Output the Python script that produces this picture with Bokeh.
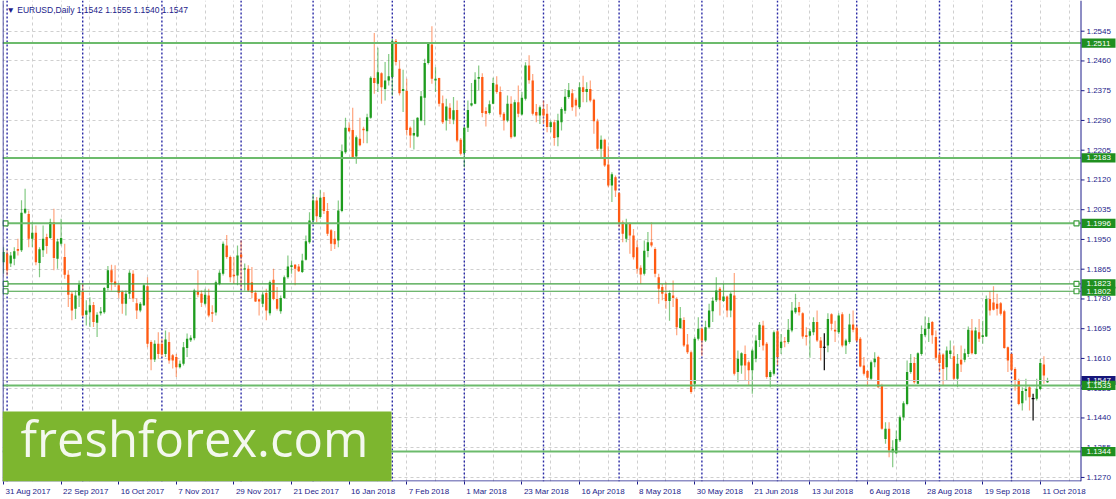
import pandas as pd
from bokeh.plotting import figure
from bokeh.models import (ColumnDataSource, FixedTicker, Label, BoxAnnotation, Span, Range1d)
from bokeh.core.properties import value
from bokeh.embed import file_html
from bokeh.resources import INLINE

# ---------------- data (EURUSD daily) ----------------
opens = [1.1885,1.1909,1.1881,1.1895,1.1923,1.1919,1.2026,1.2023,1.1952,1.1969,
1.1883,1.1919,1.1957,1.1954,1.2000,1.1895,1.1938,1.1900,1.1849,1.1795,
1.1752,1.1790,1.1800,1.1735,1.1742,1.1763,1.1712,1.1739,1.1742,1.1811,
1.1862,1.1830,1.1819,1.1800,1.1766,1.1795,1.1852,1.1768,1.1747,1.1762,
1.1816,1.1657,1.1607,1.1652,1.1652,1.1623,1.1657,1.1619,1.1614,1.1585,
1.1595,1.1640,1.1662,1.1668,1.1800,1.1795,1.1766,1.1790,1.1742,1.1741,
1.1823,1.1852,1.1933,1.1900,1.1849,1.1847,1.1907,1.1864,1.1866,1.1828,
1.1798,1.1779,1.1766,1.1797,1.1739,1.1835,1.1780,1.1745,1.1783,1.1842,
1.1871,1.1878,1.1873,1.1857,1.1892,1.1942,1.2004,1.2061,1.2014,1.2071,
1.2031,1.1976,1.1952,1.1947,1.2031,1.2199,1.2269,1.2263,1.2187,1.2238,
1.2266,1.2259,1.2298,1.2411,1.2395,1.2425,1.2380,1.2404,1.2414,1.2517,
1.2438,1.2374,1.2374,1.2269,1.2247,1.2244,1.2290,1.2355,1.2454,1.2507,
1.2404,1.2411,1.2339,1.2290,1.2326,1.2292,1.2320,1.2235,1.2197,1.2269,
1.2333,1.2338,1.2409,1.2414,1.2317,1.2311,1.2338,1.2393,1.2371,1.2309,
1.2290,1.2338,1.2244,1.2342,1.2307,1.2352,1.2447,1.2404,1.2314,1.2304,
1.2323,1.2309,1.2271,1.2285,1.2242,1.2285,1.2318,1.2357,1.2368,1.2349,
1.2328,1.2385,1.2371,1.2380,1.2349,1.2288,1.2209,1.2235,1.2164,1.2104,
1.2128,1.2082,1.1999,1.1952,1.1995,1.1961,1.1928,1.1869,1.1852,1.1917,
1.1942,1.1923,1.1842,1.1814,1.1795,1.1774,1.1790,1.1780,1.1697,1.1720,
1.1650,1.1628,1.1538,1.1666,1.1695,1.1661,1.1699,1.1745,1.1776,1.1809,
1.1774,1.1787,1.1747,1.1790,1.1571,1.1590,1.1623,1.1599,1.1576,1.1609,
1.1663,1.1704,1.1652,1.1557,1.1566,1.1688,1.1640,1.1659,1.1657,1.1690,
1.1742,1.1757,1.1739,1.1676,1.1675,1.1685,1.1714,1.1661,1.1642,1.1647,
1.1736,1.1692,1.1685,1.1736,1.1647,1.1657,1.1707,1.1698,1.1666,1.1590,
1.1574,1.1552,1.1599,1.1614,1.1533,1.1380,1.1409,1.1342,1.1339,1.1376,
1.1442,1.1480,1.1571,1.1597,1.1538,1.1623,1.1676,1.1695,1.1714,1.1671,
1.1621,1.1621,1.1585,1.1623,1.1616,1.1552,1.1606,1.1606,1.1623,1.1690,
1.1623,1.1685,1.1671,1.1673,1.1780,1.1770,1.1766,1.1768,1.1745,1.1642,
1.1623,1.1580,1.1547,1.1482,1.1517,1.1528,1.1495,1.1495,1.1523,1.1593,
1.1542]
highs = [1.1928,1.1919,1.1914,1.1928,1.1952,1.2062,1.2095,1.2033,1.2000,1.1990,
1.1928,1.1990,1.1966,1.2009,1.2038,1.1952,1.2009,1.1938,1.1862,1.1800,
1.1804,1.1833,1.1823,1.1776,1.1785,1.1771,1.1742,1.1757,1.1814,1.1874,
1.1878,1.1876,1.1823,1.1804,1.1804,1.1862,1.1862,1.1781,1.1771,1.1823,
1.1842,1.1662,1.1662,1.1685,1.1666,1.1690,1.1685,1.1623,1.1623,1.1604,
1.1657,1.1681,1.1676,1.1809,1.1862,1.1804,1.1809,1.1809,1.1762,1.1833,
1.1862,1.1944,1.1963,1.1904,1.1900,1.1933,1.1947,1.1881,1.1876,1.1871,
1.1804,1.1781,1.1799,1.1809,1.1833,1.1866,1.1814,1.1790,1.1847,1.1904,
1.1890,1.1880,1.1880,1.1909,1.1961,1.2028,1.2080,1.2071,1.2092,1.2085,
1.2054,1.1980,1.1974,1.2061,1.2221,1.2298,1.2285,1.2326,1.2247,1.2298,
1.2272,1.2309,1.2416,1.2540,1.2498,1.2428,1.2457,1.2480,1.2523,1.2523,
1.2461,1.2435,1.2409,1.2273,1.2292,1.2299,1.2374,1.2466,1.2514,1.2559,
1.2442,1.2412,1.2361,1.2352,1.2339,1.2357,1.2347,1.2240,1.2273,1.2347,
1.2397,1.2428,1.2447,1.2425,1.2328,1.2347,1.2412,1.2416,1.2387,1.2314,
1.2361,1.2359,1.2349,1.2390,1.2371,1.2456,1.2476,1.2423,1.2337,1.2333,
1.2347,1.2337,1.2290,1.2292,1.2309,1.2328,1.2380,1.2397,1.2380,1.2355,
1.2399,1.2418,1.2399,1.2404,1.2352,1.2295,1.2247,1.2238,1.2216,1.2142,
1.2133,1.2085,1.2004,1.2009,1.1999,1.1980,1.1947,1.1876,1.1947,1.1971,
1.1999,1.1928,1.1852,1.1823,1.1828,1.1804,1.1833,1.1785,1.1757,1.1728,
1.1680,1.1633,1.1671,1.1728,1.1699,1.1718,1.1766,1.1785,1.1842,1.1814,
1.1823,1.1790,1.1799,1.1854,1.1633,1.1628,1.1647,1.1604,1.1638,1.1676,
1.1714,1.1718,1.1657,1.1576,1.1690,1.1692,1.1680,1.1671,1.1723,1.1771,
1.1795,1.1771,1.1742,1.1699,1.1695,1.1728,1.1747,1.1671,1.1682,1.1739,
1.1739,1.1718,1.1739,1.1742,1.1666,1.1738,1.1747,1.1704,1.1671,1.1614,
1.1578,1.1604,1.1628,1.1618,1.1538,1.1428,1.1428,1.1376,1.1404,1.1447,
1.1488,1.1604,1.1623,1.1614,1.1628,1.1704,1.1730,1.1728,1.1717,1.1690,
1.1633,1.1625,1.1644,1.1661,1.1647,1.1623,1.1647,1.1638,1.1701,1.1723,
1.1699,1.1723,1.1718,1.1790,1.1802,1.1816,1.1795,1.1771,1.1749,1.1644,
1.1625,1.1585,1.1552,1.1528,1.1552,1.1533,1.1509,1.1552,1.1609,1.1616,
1.1555]
lows = [1.1852,1.1847,1.1871,1.1876,1.1904,1.1914,1.2023,1.1928,1.1928,1.1876,
1.1842,1.1900,1.1909,1.1952,1.1862,1.1866,1.1933,1.1838,1.1757,1.1719,
1.1723,1.1757,1.1728,1.1704,1.1700,1.1700,1.1671,1.1733,1.1738,1.1804,
1.1804,1.1814,1.1782,1.1738,1.1733,1.1781,1.1771,1.1723,1.1742,1.1760,
1.1642,1.1576,1.1600,1.1609,1.1614,1.1614,1.1595,1.1581,1.1557,1.1581,
1.1590,1.1614,1.1657,1.1662,1.1785,1.1757,1.1762,1.1728,1.1714,1.1733,
1.1819,1.1847,1.1895,1.1828,1.1823,1.1819,1.1809,1.1804,1.1800,1.1782,
1.1771,1.1733,1.1757,1.1719,1.1733,1.1776,1.1747,1.1738,1.1780,1.1838,
1.1852,1.1819,1.1857,1.1854,1.1890,1.1938,1.1999,1.1999,1.2009,1.2023,
1.1960,1.1917,1.1923,1.1928,1.2028,1.2195,1.2257,1.2180,1.2166,1.2216,
1.2225,1.2225,1.2295,1.2366,1.2371,1.2338,1.2347,1.2390,1.2361,1.2447,
1.2361,1.2314,1.2247,1.2212,1.2207,1.2242,1.2288,1.2276,1.2450,1.2395,
1.2371,1.2330,1.2280,1.2261,1.2280,1.2279,1.2228,1.2190,1.2157,1.2257,
1.2330,1.2336,1.2376,1.2299,1.2273,1.2307,1.2336,1.2366,1.2299,1.2261,
1.2285,1.2238,1.2242,1.2299,1.2304,1.2347,1.2395,1.2304,1.2285,1.2280,
1.2280,1.2256,1.2256,1.2218,1.2216,1.2261,1.2309,1.2352,1.2318,1.2301,
1.2323,1.2342,1.2342,1.2342,1.2252,1.2204,1.2185,1.2157,1.2099,1.2057,
1.2071,1.1985,1.1942,1.1942,1.1909,1.1893,1.1852,1.1823,1.1847,1.1899,
1.1928,1.1842,1.1766,1.1776,1.1752,1.1718,1.1757,1.1676,1.1695,1.1643,
1.1623,1.1509,1.1523,1.1661,1.1618,1.1657,1.1695,1.1714,1.1771,1.1733,
1.1771,1.1728,1.1728,1.1561,1.1542,1.1566,1.1547,1.1533,1.1509,1.1599,
1.1643,1.1633,1.1552,1.1528,1.1561,1.1590,1.1623,1.1642,1.1652,1.1685,
1.1738,1.1733,1.1666,1.1647,1.1612,1.1676,1.1657,1.1604,1.1576,1.1628,
1.1690,1.1657,1.1680,1.1642,1.1623,1.1652,1.1685,1.1657,1.1585,1.1561,
1.1530,1.1547,1.1585,1.1526,1.1406,1.1366,1.1328,1.1299,1.1336,1.1371,
1.1433,1.1476,1.1566,1.1538,1.1536,1.1618,1.1671,1.1657,1.1652,1.1604,
1.1571,1.1533,1.1547,1.1609,1.1547,1.1528,1.1571,1.1599,1.1614,1.1621,
1.1621,1.1657,1.1652,1.1671,1.1733,1.1747,1.1733,1.1733,1.1638,1.1571,
1.1574,1.1518,1.1476,1.1461,1.1490,1.1461,1.1433,1.1490,1.1520,1.1538,
1.1540]
closes = [1.1914,1.1862,1.1904,1.1916,1.1918,1.2026,1.2038,1.1952,1.1969,1.1885,
1.1922,1.1952,1.1931,1.2000,1.1897,1.1944,1.1954,1.1849,1.1792,1.1747,
1.1790,1.1821,1.1733,1.1747,1.1762,1.1714,1.1735,1.1744,1.1811,1.1862,
1.1828,1.1822,1.1798,1.1766,1.1795,1.1855,1.1781,1.1747,1.1766,1.1819,
1.1652,1.1607,1.1652,1.1623,1.1621,1.1664,1.1604,1.1604,1.1585,1.1595,
1.1642,1.1666,1.1669,1.1804,1.1792,1.1769,1.1792,1.1733,1.1738,1.1828,
1.1855,1.1938,1.1900,1.1842,1.1845,1.1904,1.1899,1.1868,1.1804,1.1798,
1.1773,1.1773,1.1793,1.1747,1.1828,1.1780,1.1752,1.1783,1.1842,1.1873,
1.1876,1.1866,1.1859,1.1890,1.1945,1.2004,1.2061,1.2016,1.2069,1.2031,
1.1966,1.1938,1.1936,1.2033,1.2202,1.2269,1.2259,1.2185,1.2242,1.2219,
1.2262,1.2299,1.2412,1.2397,1.2428,1.2385,1.2404,1.2416,1.2516,1.2457,
1.2368,1.2380,1.2263,1.2247,1.2254,1.2298,1.2359,1.2454,1.2511,1.2409,
1.2409,1.2338,1.2285,1.2330,1.2295,1.2319,1.2233,1.2195,1.2269,1.2320,
1.2339,1.2406,1.2414,1.2311,1.2309,1.2336,1.2397,1.2371,1.2307,1.2290,
1.2338,1.2242,1.2342,1.2309,1.2355,1.2447,1.2405,1.2309,1.2304,1.2328,
1.2304,1.2271,1.2285,1.2240,1.2290,1.2323,1.2358,1.2376,1.2328,1.2333,
1.2385,1.2371,1.2380,1.2347,1.2288,1.2209,1.2235,1.2161,1.2104,1.2136,
1.2090,1.1995,1.1966,1.1995,1.1961,1.1899,1.1866,1.1850,1.1918,1.1942,
1.1933,1.1852,1.1809,1.1795,1.1774,1.1797,1.1783,1.1699,1.1725,1.1647,
1.1628,1.1514,1.1666,1.1695,1.1661,1.1699,1.1747,1.1775,1.1804,1.1776,
1.1787,1.1747,1.1795,1.1566,1.1609,1.1625,1.1590,1.1576,1.1633,1.1661,
1.1706,1.1647,1.1557,1.1571,1.1685,1.1614,1.1658,1.1656,1.1692,1.1747,
1.1755,1.1742,1.1673,1.1671,1.1688,1.1714,1.1661,1.1640,1.1642,1.1723,
1.1709,1.1687,1.1733,1.1647,1.1661,1.1707,1.1692,1.1661,1.1587,1.1566,
1.1555,1.1599,1.1609,1.1528,1.1409,1.1409,1.1347,1.1352,1.1380,1.1442,
1.1482,1.1571,1.1597,1.1542,1.1625,1.1680,1.1695,1.1711,1.1676,1.1612,
1.1597,1.1580,1.1633,1.1633,1.1552,1.1595,1.1593,1.1625,1.1692,1.1625,
1.1690,1.1666,1.1676,1.1780,1.1747,1.1749,1.1752,1.1738,1.1640,1.1604,
1.1578,1.1547,1.1480,1.1517,1.1523,1.1499,1.1495,1.1523,1.1597,1.1561,
1.1547]

levels = [1.2511, 1.2183, 1.1996, 1.1823, 1.1802, 1.1533, 1.1344]
level_thick = [True, True, True, False, False, True, True]
anchored_levels = [1.1996, 1.1823, 1.1802]
bid_price = 1.1547
y_ticks = [1.1270, 1.1355, 1.1440, 1.1525, 1.1610, 1.1695, 1.1780, 1.1865,
           1.1950, 1.2035, 1.2120, 1.2205, 1.2290, 1.2375, 1.2460, 1.2545]
date_labels = ["31 Aug 2017", "22 Sep 2017", "16 Oct 2017", "7 Nov 2017", "29 Nov 2017",
               "21 Dec 2017", "16 Jan 2018", "7 Feb 2018", "1 Mar 2018", "23 Mar 2018",
               "16 Apr 2018", "8 May 2018", "30 May 2018", "21 Jun 2018", "13 Jul 2018",
               "6 Aug 2018", "28 Aug 2018", "19 Sep 2018", "11 Oct 2018"]
label_every = 16
title_text = "\u25BC EURUSD,Daily  1.1542 1.1555 1.1540 1.1547"
watermark = "freshforex.com"

# ---------------- layout ----------------
dates = pd.bdate_range("2017-08-31", "2018-10-15")
dates = dates[~dates.isin(pd.to_datetime(["2017-12-25", "2018-01-01"]))]
n = len(closes)
idx = list(range(n))
month_starts = [i for i in range(1, len(dates)) if dates[i].month != dates[i - 1].month]

W, H = 1116, 499
BORDER_L, AXIS_B = 2, 18
frame_w = W - BORDER_L          # the price scale lives inside the frame, right of the chart
frame_h = H - AXIS_B
BAR_PX = 3.6
PRICE_PX = 3500.0
x0 = (BORDER_L - 3) / BAR_PX
x_end = x0 + frame_w / BAR_PX
y1 = 1.2545 + 30.7 / PRICE_PX
y0 = y1 - frame_h / PRICE_PX


def fx(px):  # reference pixel column -> data x
    return x0 + (px - BORDER_L) / BAR_PX


def fy(py):  # reference pixel row -> data y
    return y1 - py / PRICE_PX


xb = fx(1080.5)   # right edge of the chart area (price scale line)

NAVY = "#1c1c8a"
BULL, BEAR, DOJI = "#1e9c1e", "#ff5a12", "#000000"
FONT = "Liberation Sans"

p = figure(width=W, height=H, output_backend="svg", toolbar_location=None,
           x_range=Range1d(x0, x_end), y_range=Range1d(y0, y1),
           y_axis_location=None, min_border_left=BORDER_L, min_border_right=0,
           min_border_top=0, min_border_bottom=AXIS_B)
p.background_fill_color = "white"
p.border_fill_color = "white"
p.outline_line_color = None

# bottom time axis: tick marks at the label dates, texts left-aligned after the tick
CHAR_EM = {" ": 0.278, "A": 0.667, "S": 0.667, "O": 0.778, "N": 0.722, "D": 0.722,
           "J": 0.5, "F": 0.611, "M": 0.833, "c": 0.5, "t": 0.278, "v": 0.5, "r": 0.333,
           "y": 0.5, "l": 0.222}
FS = 8.0


def text_w(s):
    return sum(CHAR_EM.get(ch, 0.556) for ch in s) * FS


tick_pos = [k * label_every for k in range(len(date_labels))]
label_pos = [t + (2 + text_w(s) / 2) / BAR_PX for t, s in zip(tick_pos, date_labels)]
p.xaxis.ticker = FixedTicker(ticks=label_pos, minor_ticks=tick_pos)
p.xaxis.major_label_overrides = {lp: s for lp, s in zip(label_pos, date_labels)}
p.xaxis.axis_line_color = None
p.xaxis.major_tick_line_color = None
p.xaxis.major_tick_out = 0
p.xaxis.major_tick_in = 0
p.xaxis.minor_tick_line_color = NAVY
p.xaxis.minor_tick_out = 3
p.xaxis.minor_tick_in = 0
p.xaxis.major_label_text_color = NAVY
p.xaxis.major_label_text_font = FONT
p.xaxis.major_label_text_font_size = "8px"
p.xaxis.major_label_standoff = 2

# grid
p.xgrid.ticker = FixedTicker(ticks=list(range(0, 300, 8)))
p.ygrid.ticker = FixedTicker(ticks=y_ticks)
for g in (p.xgrid, p.ygrid):
    g.grid_line_color = "#cfcfcf"
    g.grid_line_dash = "3 3"
    g.grid_line_width = 1

# period separators
for m in month_starts:
    p.add_layout(Span(location=m, dimension="height", line_color="#2a2aa6",
                      line_dash="2 2", line_width=1.4, level="underlay"))

# candles
colors = [BULL if c > o else (BEAR if c < o else DOJI) for o, c in zip(opens, closes)]
wick_alpha = [0.55 if col != DOJI else 1.0 for col in colors]
src = ColumnDataSource(dict(x=idx, o=opens, h=highs, l=lows, c=closes,
                            top=[max(o, c) for o, c in zip(opens, closes)],
                            bot=[min(o, c) for o, c in zip(opens, closes)],
                            col=colors, wa=wick_alpha))
p.segment(x0="x", y0="l", x1="x", y1="h", source=src, line_color="col",
          line_alpha="wa", line_width=1.2)
p.vbar(x="x", top="top", bottom="bot", width=0.64, source=src,
       fill_color="col", line_color=None)
doji = [i for i in idx if colors[i] == DOJI]
p.segment(x0=[i - 0.4 for i in doji], x1=[i + 0.4 for i in doji],
          y0=[closes[i] for i in doji], y1=[closes[i] for i in doji],
          line_color=DOJI, line_width=1.2)

# bid line and horizontal levels (chart area only)
p.segment(x0=[x0], x1=[xb], y0=[bid_price], y1=[bid_price], line_color="#c8c8c8", line_width=1)
p.segment(x0=[x0] * len(levels), x1=[xb] * len(levels), y0=levels, y1=levels,
          line_color=["#6cbb6c" if t else "#3f9f3f" for t in level_thick],
          line_width=[2 if t else 1.2 for t in level_thick])
p.scatter(x=[fx(5)] * len(anchored_levels) + [fx(1076)] * len(anchored_levels),
          y=anchored_levels + anchored_levels, marker="square", size=5,
          fill_color="white", line_color="#3f9f3f", line_width=1.2)

# price scale area (white), its line, ticks and labels
p.quad(left=[xb], right=[x_end], bottom=[y0], top=[y1], fill_color="white", line_color=None)
p.segment(x0=[x0], x1=[xb], y0=[fy(480.5)], y1=[fy(480.5)], line_color=NAVY, line_width=1)
p.segment(x0=[xb] * len(y_ticks), x1=[fx(1084)] * len(y_ticks), y0=y_ticks, y1=y_ticks,
          line_color=NAVY, line_width=1)
p.text(x=[fx(1086)] * len(y_ticks), y=y_ticks, text=[f"{t:.4f}" for t in y_ticks],
       text_color=NAVY, text_font=value(FONT), text_font_size="8px",
       text_baseline="middle", text_align="left")

# price tags (current price first, level tags on top)
tag_prices = [bid_price] + levels
tag_colors = ["#16167a"] + ["#1f8f1f"] * len(levels)
p.quad(left=[fx(1081)] * len(tag_prices), right=[fx(1115)] * len(tag_prices),
       bottom=[v - 4.6 / PRICE_PX for v in tag_prices],
       top=[v + 4.6 / PRICE_PX for v in tag_prices],
       fill_color=tag_colors, line_color=None)
p.text(x=[fx(1086)] * len(tag_prices), y=tag_prices, text=[f"{v:.4f}" for v in tag_prices],
       text_color="white", text_font=value(FONT), text_font_size="8px",
       text_baseline="middle", text_align="left")

# chart borders (left edge and price-scale line)
p.add_layout(Span(location=fx(2.5), dimension="height", line_color=NAVY, line_width=1))
p.add_layout(Span(location=xb, dimension="height", line_color=NAVY, line_width=1))

# watermark box
p.add_layout(BoxAnnotation(left=fx(2), right=fx(391), top=fy(411), bottom=y0,
                           fill_color="#7db62f", fill_alpha=1.0, line_color=None))
p.add_layout(Label(x=fx(20), y=fy(437), text=watermark, text_color="#f4f8ee",
                   text_font="Open Sans", text_font_size="49px",
                   text_baseline="middle"))

# title
p.add_layout(Label(x=fx(6), y=fy(4), text=title_text, text_color=NAVY, text_font=FONT,
                   text_font_size="8.5px", text_baseline="top"))

open("out.html", "w").write(file_html(p, INLINE))
